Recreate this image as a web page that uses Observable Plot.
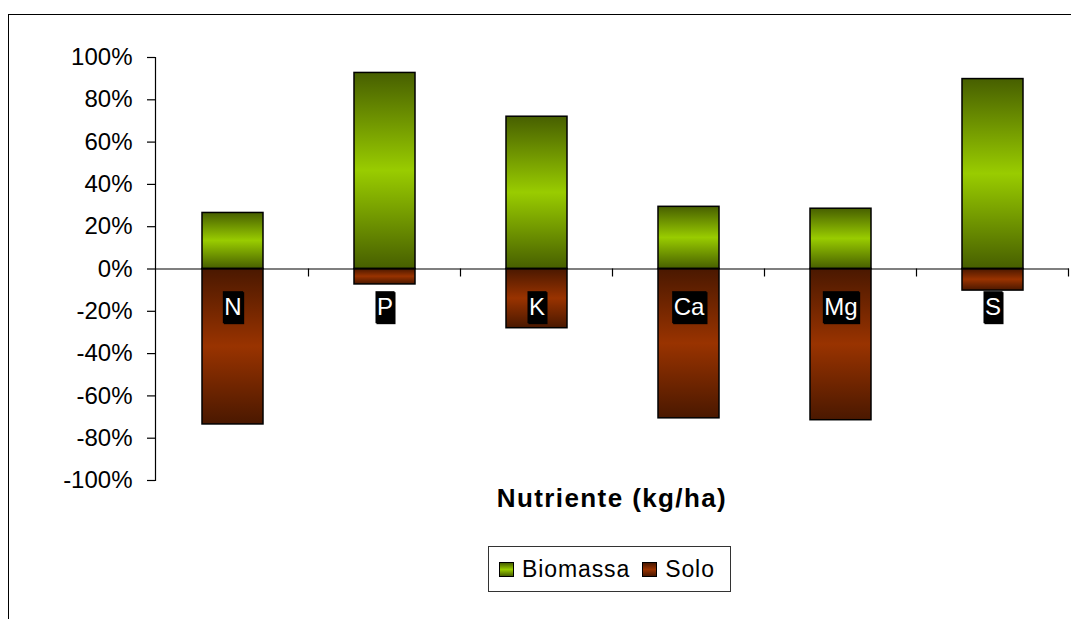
<!DOCTYPE html>
<html><head><meta charset="utf-8">
<script src="https://cdn.jsdelivr.net/npm/d3@7"></script>
<script src="https://cdn.jsdelivr.net/npm/@observablehq/plot@0.6"></script>
<style>
body{margin:0;background:#fff;font-family:"Liberation Sans",Arial,sans-serif;}
#wrap{position:relative;width:1071px;height:619px;overflow:hidden;background:#fff;}
#border{position:absolute;left:8px;top:14px;width:1200px;height:800px;border:1.5px solid #000;box-sizing:border-box;}
#chart{position:absolute;left:0;top:0;}
#xtitle{position:absolute;left:155px;width:914px;top:485px;text-align:center;font-weight:bold;font-size:26px;line-height:26px;letter-spacing:1.4px;color:#000;}
#legend{position:absolute;left:488px;top:546px;width:243px;height:46px;box-sizing:border-box;border:1px solid #333;display:flex;align-items:center;font-size:23px;letter-spacing:0.9px;color:#000;}
.sw{width:13px;height:13px;border:1.5px solid #000;display:inline-block;margin-right:8px;}
.item{display:flex;align-items:center;}
</style>
</head><body>
<div id="wrap">
  <div id="border"></div>
  <div id="chart"></div>
  <div id="xtitle"></div>
  <div id="legend"></div>
</div>
<script>
const categories = ["N","P","K","Ca","Mg","S"];
const biomassa = [0.265, 0.927, 0.72, 0.294, 0.285, 0.898];
const solo = [-0.735, -0.073, -0.28, -0.706, -0.715, -0.102];
const yTicks = [-1, -0.8, -0.6, -0.4, -0.2, 0, 0.2, 0.4, 0.6, 0.8, 1];
const seriesNames = ["Biomassa", "Solo"];
const xTitle = "Nutriente (kg/ha)";
const gradStops = {
  gradBio: ["#475f00", "#99cc00", "#475f00"],
  gradSolo: ["#4a1800", "#993300", "#4a1800"]
};

const fmt = d => Math.round(d * 100) + "%";
const bioData = categories.map((c, i) => ({cat: c, v: biomassa[i]}));
const soloData = categories.map((c, i) => ({cat: c, v: solo[i]}));

const chart = Plot.plot({
  width: 1071, height: 619,
  marginLeft: 155, marginRight: 2, marginTop: 57, marginBottom: 139,
  style: {fontFamily: "Liberation Sans, Arial, sans-serif", fontSize: "24px", color: "#000", background: "transparent"},
  x: {domain: categories, paddingInner: 0.6, paddingOuter: 0.3, axis: null},
  y: {domain: [-1, 1], axis: null},
  marks: [
    Plot.axisY({ticks: yTicks, tickFormat: fmt, tickSize: 8, tickPadding: 15, fontSize: 24, label: null, stroke: "#000", strokeWidth: 1.2}),
    Plot.frame({anchor: "left", stroke: "#000", strokeWidth: 1.2}),
    Plot.barY(bioData, {x: "cat", y: "v", fill: "url(#gradBio)", stroke: "#000", strokeWidth: 1.5}),
    Plot.barY(soloData, {x: "cat", y: "v", fill: "url(#gradSolo)", stroke: "#000", strokeWidth: 1.5}),
    Plot.ruleY([0], {stroke: "#000", strokeWidth: 1.2}),
    Plot.text(categories, {x: d => d, y: d => 0, dy: 38, text: d => d, fill: "#fff", fontSize: 24})
  ]
});

document.getElementById("chart").appendChild(chart);
const svg = d3.select(chart);
const defs = svg.insert("defs", ":first-child");
for (const [id, cols] of Object.entries(gradStops)) {
  const g = defs.append("linearGradient").attr("id", id).attr("x1", 0).attr("y1", 0).attr("x2", 0).attr("y2", 1);
  cols.forEach((c, i) => g.append("stop").attr("offset", i / (cols.length - 1)).attr("stop-color", c));
}

// category boundary ticks on the zero line
const xs = chart.scale("x"), ys = chart.scale("y");
const y0 = ys.apply(0);
const gap = (xs.step - xs.bandwidth) / 2;
const bounds = categories.slice(1).map(c => xs.apply(c) - gap);
bounds.push(xs.apply(categories[categories.length - 1]) + xs.bandwidth + gap);
const tg = svg.append("g");
bounds.forEach(b => tg.append("line").attr("x1", b).attr("x2", b).attr("y1", y0).attr("y2", y0 + 8).attr("stroke", "#000").attr("stroke-width", 1.2));

// black boxes behind category labels
svg.selectAll('g[aria-label="text"] text').each(function() {
  const bb = this.getBBox();
  const p = this.parentNode;
  const tr = this.getAttribute("transform") || "";
  const mk = (ox, oy) => {
    const r = document.createElementNS("http://www.w3.org/2000/svg", "rect");
    r.setAttribute("x", bb.x - 1.5 + ox); r.setAttribute("y", bb.y - 1.5 + oy);
    r.setAttribute("width", bb.width + 3); r.setAttribute("height", bb.height + 5);
    r.setAttribute("fill", "#000");
    if (tr) r.setAttribute("transform", tr);
    p.insertBefore(r, this);
  };
  mk(1, 1);
  mk(0, 0);
});

document.getElementById("xtitle").textContent = xTitle;
const legend = d3.select("#legend");
const swatchCss = [
  "linear-gradient(#475f00,#99cc00,#475f00)",
  "linear-gradient(#4a1800,#993300,#4a1800)"
];
seriesNames.forEach((n, i) => {
  const it = legend.append("div").attr("class", "item").style("margin-left", i === 0 ? "10px" : "12px");
  it.append("span").attr("class", "sw").style("background", swatchCss[i]);
  it.append("span").text(n);
});
</script>
</body></html>
